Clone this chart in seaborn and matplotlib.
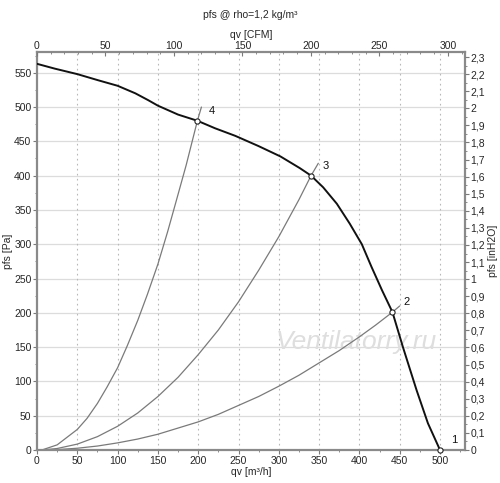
import matplotlib
matplotlib.use("Agg")
import matplotlib.pyplot as plt
import seaborn as sns
import pandas as pd
from matplotlib.ticker import MultipleLocator, FuncFormatter

# Fan curve (qv m3/h, pfs Pa)
fan_q = [0, 22, 50, 76, 100, 122, 138, 150, 175, 199, 221, 246, 275, 302,
         326, 340, 355, 372, 388, 403, 415, 428, 441, 454, 471, 485, 500]
fan_p = [563, 556, 548, 539, 531, 520, 510, 502, 489, 480, 469, 458, 443, 428,
         411, 400, 383, 359, 330, 300, 267, 233, 201, 150, 87, 39, 0]

# System curves
sys4_q = [8, 25, 50, 62, 75, 87, 100, 112, 125, 137, 150, 162, 172, 185, 199, 204]
sys4_p = [0.8, 7.5, 30, 46, 68, 92, 120, 152, 189, 227, 271, 318, 360, 415, 480, 500]
sys3_q = [8, 25, 50, 75, 100, 125, 150, 175, 200, 225, 250, 275, 300, 325, 340, 349]
sys3_p = [0.2, 2.2, 8.6, 19.5, 34.6, 54, 78, 106, 139, 175, 216, 262, 311, 365, 400, 418]
sys2_q = [8, 25, 50, 75, 100, 125, 150, 175, 200, 225, 250, 275, 300, 325, 350, 375, 400, 420, 441, 450]
sys2_p = [0.1, 0.6, 2.6, 5.8, 10.4, 16, 23, 32, 41, 52, 65, 78, 93, 109, 127, 145, 165, 182, 201, 210]

# Operating points
pt_q = [500, 441, 340, 199]
pt_p = [0, 201, 400, 480]
pt_lab = ["1", "2", "3", "4"]

sns.set_style("white")
plt.rcParams['font.family'] = ['Liberation Sans', 'DejaVu Sans']
plt.rcParams['font.size'] = 7.5

fig = plt.figure(figsize=(5.0, 4.83), dpi=100)
ax = fig.add_axes([0.074, 0.0683, 0.856, 0.8237])

XMAX, YMAX = 531, 580
ax.set_xlim(0, XMAX)
ax.set_ylim(0, YMAX)

# grid
for yv in range(50, 580, 50):
    ax.axhline(yv, color="#dcdcdc", lw=0.9, zorder=0)
for xv in range(50, 531, 50):
    ax.axvline(xv, color="#b8b8b8", lw=0.8, ls=(0, (1.5, 3)), zorder=0)

ax.text(396, 157, "Ventilatorry.ru", fontsize=19, style="italic", color="#dedede",
        ha="center", va="center", zorder=1)

grey = "#7a7a7a"
for q, p in [(sys4_q, sys4_p), (sys3_q, sys3_p), (sys2_q, sys2_p)]:
    df = pd.DataFrame({"q": q, "p": p})
    sns.lineplot(data=df, x="q", y="p", ax=ax, color=grey, lw=0.9, sort=False, zorder=2)

dff = pd.DataFrame({"q": fan_q, "p": fan_p})
sns.lineplot(data=dff, x="q", y="p", ax=ax, color="#111111", lw=1.4, sort=False, zorder=3)

ax.scatter(pt_q, pt_p, s=14, facecolor="white", edgecolor="#222222", lw=0.8, zorder=5, clip_on=False)
for q, p, l in zip(pt_q, pt_p, pt_lab):
    ax.annotate(l, (q, p), xytext=(8, 5), textcoords="offset points", fontsize=8, color="#111111")

ax.set_xlabel("qv [m³/h]", labelpad=1)
ax.set_ylabel("pfs [Pa]", labelpad=1)
ax.xaxis.set_major_locator(MultipleLocator(50))
ax.xaxis.set_minor_locator(MultipleLocator(25))
ax.yaxis.set_major_locator(MultipleLocator(50))
ax.yaxis.set_minor_locator(MultipleLocator(25))
ax.tick_params(which="major", length=3, width=0.8, color=grey, pad=1)
ax.tick_params(which="minor", length=1.5, width=0.6, color=grey)

for s in ax.spines.values():
    s.set_color("#8a8a8a")
    s.set_linewidth(1.6)

# top axis CFM
axt = ax.twiny()
axt.set_xlim(0, XMAX / 1.699)
axt.xaxis.set_major_locator(MultipleLocator(50))
axt.xaxis.set_minor_locator(MultipleLocator(10))
axt.tick_params(which="major", length=3, width=0.8, color=grey, pad=1, direction="in")
axt.tick_params(which="minor", length=1.5, width=0.6, color=grey, direction="in")
axt.set_xlabel("qv [CFM]", labelpad=2)
for s in axt.spines.values():
    s.set_visible(False)

# right axis inH2O
axr = ax.twinx()
axr.set_ylim(0, YMAX / 249.09)
axr.yaxis.set_major_locator(MultipleLocator(0.1))
axr.yaxis.set_minor_locator(MultipleLocator(0.05))
axr.yaxis.set_major_formatter(FuncFormatter(lambda v, p: ("%g" % round(v, 2)).replace(".", ",")))
axr.tick_params(which="major", length=3, width=0.8, color=grey, pad=1)
axr.tick_params(which="minor", length=1.5, width=0.6, color=grey)
axr.set_ylabel("pfs [inH2O]", labelpad=2)
for s in axr.spines.values():
    s.set_visible(False)

fig.text(0.5, 1 - 15 / 483, "pfs @ rho=1,2 kg/m³", ha="center", va="center", fontsize=7.5)

fig.savefig("out.png", dpi=100)
